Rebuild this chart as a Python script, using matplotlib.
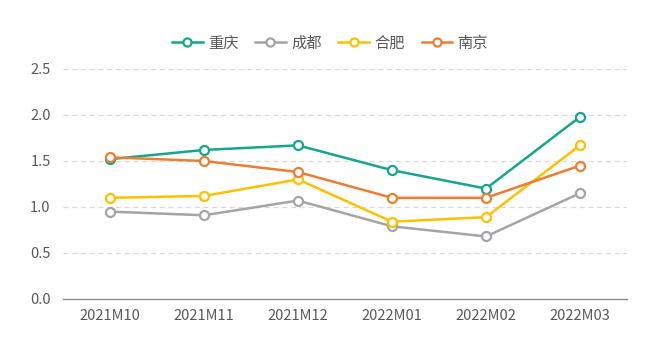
import matplotlib
matplotlib.use("Agg")
import matplotlib.pyplot as plt
import numpy as np

plt.rcParams['font.family'] = ['Noto Sans CJK SC', 'DejaVu Sans']

months = ["2021M10", "2021M11", "2021M12", "2022M01", "2022M02", "2022M03"]
chongqing = [1.52, 1.62, 1.67, 1.40, 1.20, 1.98]
chengdu = [0.95, 0.91, 1.07, 0.79, 0.68, 1.15]
hefei = [1.10, 1.12, 1.30, 0.84, 0.89, 1.67]
nanjing = [1.54, 1.50, 1.38, 1.10, 1.10, 1.45]

series = [("重庆", chongqing, "#16a68c"),
          ("成都", chengdu, "#a5a5a5"),
          ("合肥", hefei, "#ffc000"),
          ("南京", nanjing, "#ed7d31")]

fig = plt.figure(figsize=(6.6, 3.64), dpi=100)
ax = fig.add_axes([63/660, 1-299/364, 564/660, 230/364])

x = np.arange(len(months))
for name, vals, c in series:
    ax.plot(x, vals, color=c, lw=1.8, marker="o", ms=6.5, mfc="white",
            mec=c, mew=1.6, label=name, zorder=3)

ax.set_xlim(-0.5, len(months) - 0.5)
ax.set_ylim(0, 2.5)
ax.set_yticks(np.arange(0, 2.51, 0.5))
ax.set_yticklabels(["%.1f" % v for v in np.arange(0, 2.51, 0.5)])
ax.set_xticks(x)
ax.set_xticklabels(months)

for y in np.arange(0.5, 2.51, 0.5):
    ax.axhline(y, color="#d9d9d9", lw=0.9, ls=(0, (4, 3)), zorder=1)

for s in ["top", "right", "left"]:
    ax.spines[s].set_visible(False)
ax.spines["bottom"].set_color("#8c8c8c")
ax.spines["bottom"].set_linewidth(1.0)
ax.tick_params(axis="both", length=0, colors="#595959", labelsize=10.5)
ax.tick_params(axis="x", pad=7)
ax.tick_params(axis="y", pad=9)

fig.legend(loc="center", bbox_to_anchor=(0.5, 1-43/364), ncol=4, frameon=False,
           fontsize=11, labelcolor="#595959", handlelength=2.0, columnspacing=1.1,
           handletextpad=0.35, markerscale=0.9)

fig.savefig("out.png", dpi=100)
